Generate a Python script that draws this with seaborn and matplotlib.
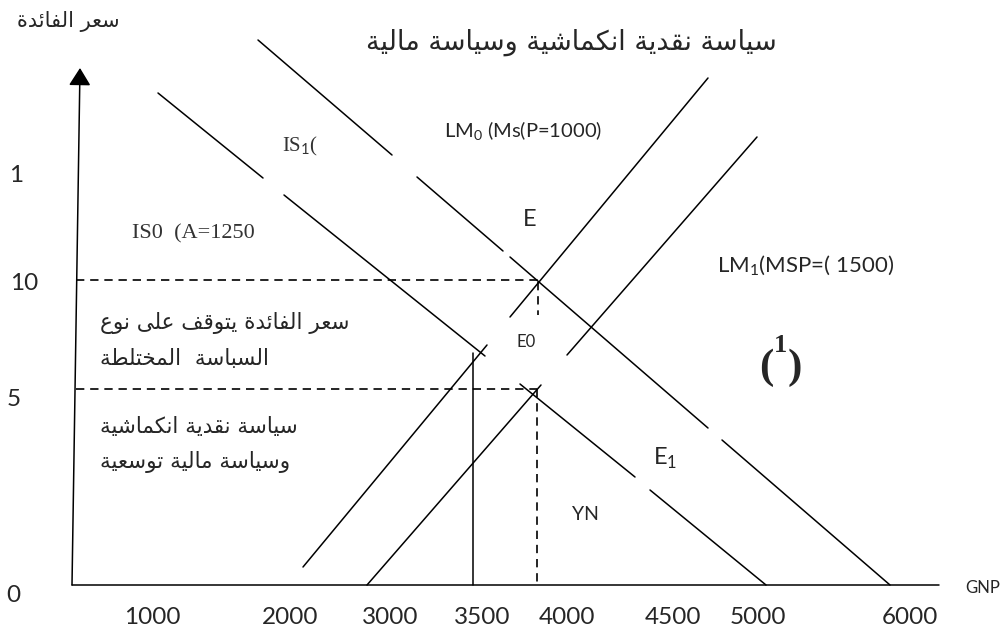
import numpy as np
import pandas as pd
import matplotlib
matplotlib.use('Agg')
import matplotlib.pyplot as plt
import seaborn as sns

# ---- drawing data, in the diagram's own coordinates ----
# every curve is drawn in pieces: consecutive pairs of points
is0_x = [158, 263, 284, 485, 520, 635, 650, 766]
is0_y = [93, 178, 195, 356, 384, 477, 490, 585]
is1_x = [258, 392, 417, 503, 510, 708, 722, 890]
is1_y = [40, 155, 177, 251, 257, 428, 440, 585]
lm0_x = [303, 487, 510, 708]
lm0_y = [567, 345, 317, 78]
lm1_x = [367, 541, 567, 757]
lm1_y = [585, 385, 355, 137]
ynat_x = [473, 473]
ynat_y = [353, 585]

# dashed guides to the equilibria
guide_x = [76, 538, 538, 538, 76, 537, 537, 537]
guide_y = [280, 280, 282, 315, 389, 389, 389, 585]

# axes of the sketch
gnp_axis_x = [72, 939]
gnp_axis_y = [585, 585]
rate_axis_base = (72, 585)
rate_axis_tip = (80, 68)

# tick labels as written under / beside the axes
gnp_labels = ['1000', '2000', '3000', '3500', '4000', '4500', '5000', '6000']
gnp_label_x = [152, 290, 390, 482, 567, 673, 758, 910]
rate_labels = ['1', '10', '5', '0']
rate_label_y = [175, 284, 400, 596]
rate_label_x = [16, 24, 14, 13]

title = 'سياسة نقدية انكماشية وسياسة مالية'
y_title = 'سعر الفائدة'
note_lines = ['سعر الفائدة يتوقف على نوع', 'السباسة  المختلطة',
              'سياسة نقدية انكماشية', 'وسياسة مالية توسعية']
note_y = [323, 359, 427, 462]


# ---- minimal Arabic shaping (matplotlib has no complex text layout) ----
FORMS = {
    'ء': (0xFE80, None, None, None),
    'آ': (0xFE81, 0xFE82, None, None), 'أ': (0xFE83, 0xFE84, None, None),
    'إ': (0xFE87, 0xFE88, None, None), 'ئ': (0xFE89, 0xFE8A, 0xFE8B, 0xFE8C),
    'ا': (0xFE8D, 0xFE8E, None, None), 'ب': (0xFE8F, 0xFE90, 0xFE91, 0xFE92),
    'ة': (0xFE93, 0xFE94, None, None), 'ت': (0xFE95, 0xFE96, 0xFE97, 0xFE98),
    'ث': (0xFE99, 0xFE9A, 0xFE9B, 0xFE9C), 'ج': (0xFE9D, 0xFE9E, 0xFE9F, 0xFEA0),
    'ح': (0xFEA1, 0xFEA2, 0xFEA3, 0xFEA4), 'خ': (0xFEA5, 0xFEA6, 0xFEA7, 0xFEA8),
    'د': (0xFEA9, 0xFEAA, None, None), 'ذ': (0xFEAB, 0xFEAC, None, None),
    'ر': (0xFEAD, 0xFEAE, None, None), 'ز': (0xFEAF, 0xFEB0, None, None),
    'س': (0xFEB1, 0xFEB2, 0xFEB3, 0xFEB4), 'ش': (0xFEB5, 0xFEB6, 0xFEB7, 0xFEB8),
    'ص': (0xFEB9, 0xFEBA, 0xFEBB, 0xFEBC), 'ض': (0xFEBD, 0xFEBE, 0xFEBF, 0xFEC0),
    'ط': (0xFEC1, 0xFEC2, 0xFEC3, 0xFEC4), 'ظ': (0xFEC5, 0xFEC6, 0xFEC7, 0xFEC8),
    'ع': (0xFEC9, 0xFECA, 0xFECB, 0xFECC), 'غ': (0xFECD, 0xFECE, 0xFECF, 0xFED0),
    'ف': (0xFED1, 0xFED2, 0xFED3, 0xFED4), 'ق': (0xFED5, 0xFED6, 0xFED7, 0xFED8),
    'ك': (0xFED9, 0xFEDA, 0xFEDB, 0xFEDC), 'ل': (0xFEDD, 0xFEDE, 0xFEDF, 0xFEE0),
    'م': (0xFEE1, 0xFEE2, 0xFEE3, 0xFEE4), 'ن': (0xFEE5, 0xFEE6, 0xFEE7, 0xFEE8),
    'ه': (0xFEE9, 0xFEEA, 0xFEEB, 0xFEEC), 'و': (0xFEED, 0xFEEE, None, None),
    'ى': (0xFEEF, 0xFEF0, None, None), 'ي': (0xFEF1, 0xFEF2, 0xFEF3, 0xFEF4),
}
LAM_ALEF = {'آ': (0xFEF5, 0xFEF6), 'أ': (0xFEF7, 0xFEF8),
            'إ': (0xFEF9, 0xFEFA), 'ا': (0xFEFB, 0xFEFC)}


def shape(text):
    out = []
    i = 0
    while i < len(text):
        ch = text[i]
        if ch not in FORMS:
            out.append(ch)
            i += 1
            continue
        prev = text[i - 1] if i > 0 else ''
        joins_prev = prev in FORMS and FORMS[prev][2] is not None
        nxt = text[i + 1] if i + 1 < len(text) else ''
        if ch == 'ل' and nxt in LAM_ALEF:
            out.append(chr(LAM_ALEF[nxt][1 if joins_prev else 0]))
            i += 2
            continue
        iso, fin, ini, med = FORMS[ch]
        joins_next = ini is not None and nxt in FORMS
        if joins_prev and joins_next:
            code = med
        elif joins_prev:
            code = fin
        elif joins_next:
            code = ini
        else:
            code = iso
        out.append(chr(code))
        i += 1
    return ''.join(reversed(out))


def pieces(name, xs, ys):
    rows = []
    for k in range(0, len(xs), 2):
        rows.append((name, f'{name}-{k}', xs[k], ys[k]))
        rows.append((name, f'{name}-{k}', xs[k + 1], ys[k + 1]))
    return rows


sns.set_style('white')
plt.rcParams['font.family'] = ['Lato', 'DejaVu Sans']
plt.rcParams['mathtext.fontset'] = 'custom'
plt.rcParams['mathtext.rm'] = 'Lato'

curves = pd.DataFrame(
    pieces('IS0', is0_x, is0_y) + pieces('IS1', is1_x, is1_y)
    + pieces('LM0', lm0_x, lm0_y) + pieces('LM1', lm1_x, lm1_y)
    + pieces('YN', ynat_x, ynat_y) + pieces('GNP', gnp_axis_x, gnp_axis_y),
    columns=['curve', 'piece', 'x', 'y'])
guides = pd.DataFrame(pieces('guide', guide_x, guide_y),
                      columns=['curve', 'piece', 'x', 'y'])

fig = plt.figure(figsize=(10.06, 6.32), dpi=100)
ax = fig.add_axes([0, 0, 1, 1])

sns.lineplot(data=curves, x='x', y='y', units='piece', estimator=None,
             sort=False, color='black', lw=1.1, ax=ax)
sns.lineplot(data=guides, x='x', y='y', units='piece', estimator=None,
             sort=False, color='black', lw=1.2, linestyle=(0, (5, 3.5)), ax=ax)

ax.annotate('', xy=rate_axis_tip, xytext=rate_axis_base,
            arrowprops=dict(arrowstyle='-|>,head_length=0.4,head_width=0.25',
                            color='black', lw=1.1, mutation_scale=27,
                            shrinkA=0, shrinkB=0))

ax.set_xlim(0, 1006)
ax.set_ylim(632, 0)
ax.axis('off')

# tick labels
for lab, x in zip(gnp_labels, gnp_label_x):
    ax.text(x, 617, lab, fontsize=17.5, ha='center', va='center')
for lab, x, y in zip(rate_labels, rate_label_x, rate_label_y):
    ax.text(x, y, lab, fontsize=17.5, ha='center', va='center')
ax.text(983, 588, 'GNP', fontsize=12, ha='center', va='center')

# arabic titles and notes
ax.text(571, 42, shape(title), fontsize=19.5, family='DejaVu Sans', ha='center', va='center')
ax.text(68, 21, shape(y_title), fontsize=15, family='DejaVu Sans', ha='center', va='center')
for line, y in zip(note_lines, note_y):
    ax.text(100, y, shape(line), fontsize=15.5, family='DejaVu Sans', ha='left', va='center')

# curve labels
ax.text(300, 146, 'IS$_1$(', fontsize=15, family='Liberation Serif',
        color='#333333', ha='center', va='center')
ax.text(193, 234, 'IS0  (A=1250', fontsize=16, family='Liberation Serif',
        color='#333333', ha='center', va='center')
ax.text(523, 131, 'LM$_0$ (Ms(P=1000)', fontsize=14.5, ha='center', va='center')
ax.text(806, 266, 'LM$_1$(MSP=( 1500)', fontsize=16, ha='center', va='center')
ax.text(530, 219, 'E', fontsize=17, ha='center', va='center')
ax.text(526, 342, 'E0', fontsize=12, ha='center', va='center')
ax.text(665, 458, 'E$_1$', fontsize=17, ha='center', va='center')
ax.text(585, 515, 'YN', fontsize=14, ha='center', va='center')
ax.text(766, 368, '(', fontsize=31, family='Liberation Serif', weight='bold',
        ha='center', va='center')
ax.text(795, 368, ')', fontsize=31, family='Liberation Serif', weight='bold',
        ha='center', va='center')
ax.text(781, 345, '1', fontsize=19, family='Liberation Serif', weight='bold',
        ha='center', va='center')

fig.savefig('out.png', dpi=100)
